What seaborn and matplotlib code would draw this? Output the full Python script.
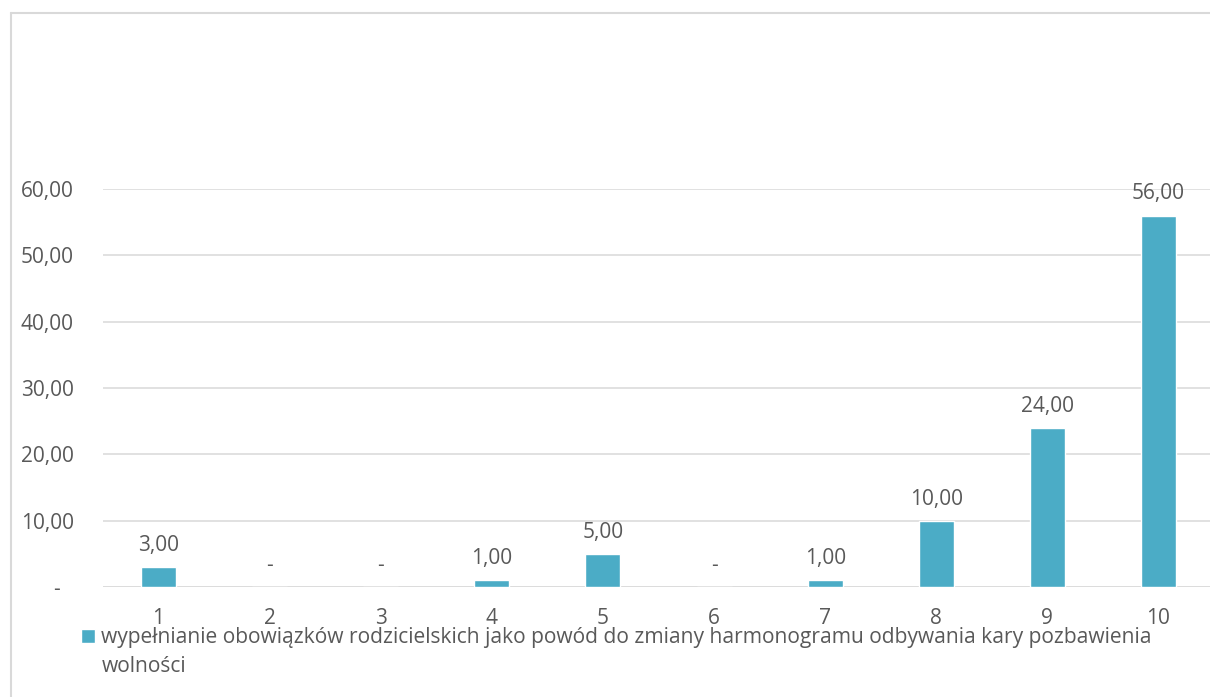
import matplotlib
matplotlib.use("Agg")
import matplotlib.pyplot as plt
import matplotlib.transforms as mtransforms
from matplotlib.lines import Line2D
import seaborn as sns
import pandas as pd

categories = ["1", "2", "3", "4", "5", "6", "7", "8", "9", "10"]
values = [3, 0, 0, 1, 5, 0, 1, 10, 24, 56]
y_ticks = [0, 10, 20, 30, 40, 50, 60]
y_tick_labels = ["-", "10,00", "20,00", "30,00", "40,00", "50,00", "60,00"]
series_line1 = "wypełnianie obowiązków rodzicielskich jako powód do zmiany harmonogramu odbywania kary pozbawienia"
series_line2 = "wolności"

BAR = "#4BACC6"
GRID = "#D9D9D9"
TXT = "#595959"
FS = 15

sns.set_theme(style="white")
plt.rcParams["font.family"] = ["Open Sans", "DejaVu Sans"]

W, H = 1210, 697
fig = plt.figure(figsize=(W / 100, H / 100), dpi=100)
ax = fig.add_axes([103 / W, 110 / H, 1111 / W, 398 / H])

df = pd.DataFrame({"cat": categories, "val": values})
sns.barplot(data=df, x="cat", y="val", color=BAR, width=0.315, ax=ax,
            saturation=1, order=categories)

ax.set_xlim(-0.5, 9.5)
ax.set_ylim(0, 60)
ax.set_yticks(y_ticks)
ax.set_yticklabels(y_tick_labels)
ax.set_xlabel("")
ax.set_ylabel("")
for s in ax.spines.values():
    s.set_visible(False)
ax.grid(False)
for t in y_ticks:
    ax.axhline(t, color=GRID, lw=1.3 if t == 0 else 1.1, zorder=0)

ax.tick_params(axis="y", length=0, pad=21, labelsize=FS, labelcolor=TXT)
ax.tick_params(axis="x", length=0, pad=15, labelsize=FS, labelcolor=TXT)

for lab in ax.get_yticklabels():
    if lab.get_text() == "-":
        lab.set_transform(lab.get_transform() +
                          mtransforms.ScaledTranslation(-14 / 100, 0, fig.dpi_scale_trans))

bar_labels = ["-" if v == 0 else f"{v:.2f}".replace(".", ",") for v in values]
ax.bar_label(ax.containers[0], labels=bar_labels, padding=8, fontsize=FS, color=TXT)

# legend: fit first line to the reference width (~1050 px)
renderer = fig.canvas.get_renderer()
probe = fig.text(0, 0, series_line1, fontsize=FS)
wpx = probe.get_window_extent(renderer).width
probe.remove()
lfs = FS * 1050 / wpx

leg = fig.legend([ax.containers[0][0]], [series_line1], loc="center left",
                 bbox_to_anchor=(81 / W, 1 - 638 / H), frameon=False,
                 fontsize=lfs, labelcolor=TXT, handlelength=14 / (lfs * 100 / 72),
                 handleheight=14 / (lfs * 100 / 72),
                 handletextpad=0.3, borderpad=0, borderaxespad=0)
fig.canvas.draw()
tx = leg.get_texts()[0].get_window_extent(renderer).x0
fig.text(tx / W, 1 - 667 / H, series_line2, fontsize=lfs, color=TXT,
         ha="left", va="center")

# chart outer border (cropped at right/bottom)
fig.add_artist(Line2D([11 / W, 11 / W], [0, 1 - 13 / H], transform=fig.transFigure,
                      color=GRID, lw=1.5))
fig.add_artist(Line2D([11 / W, 1], [1 - 13 / H, 1 - 13 / H], transform=fig.transFigure,
                      color=GRID, lw=1.5))

fig.savefig("out.png", dpi=100)
